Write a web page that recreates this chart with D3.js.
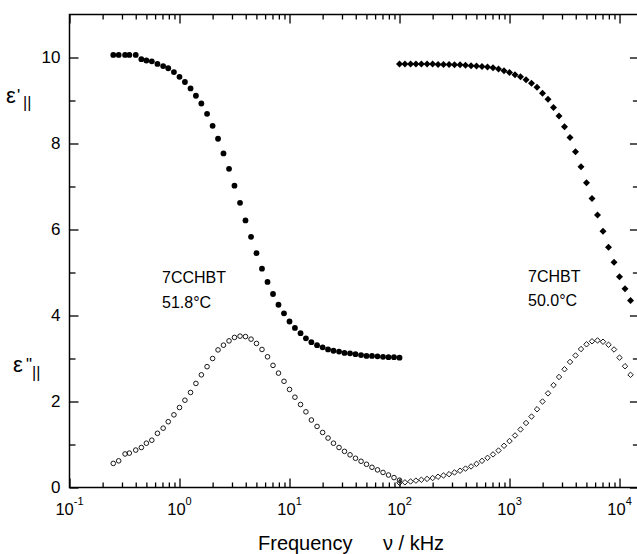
<!DOCTYPE html>
<html><head><meta charset="utf-8">
<script src="https://cdn.jsdelivr.net/npm/d3@7"></script>
<style>
body{margin:0;background:#fff}
svg{display:block}
text{font-family:"Liberation Sans",Arial,Helvetica,sans-serif;fill:#000}
</style></head>
<body><svg id="c" width="637" height="554"></svg>
<script>
// ---- data ----
// 7CCHBT, 51.8 °C : frequency (kHz), eps' (filled circles), eps'' (open circles)
const freqCCHBT = [0.25,0.28,0.32,0.35,0.40,0.45,0.50,0.56,0.63,0.71,0.79,0.89,
  1.00,1.12,1.26,1.41,1.58,1.78,2.00,2.24,2.51,2.82,3.16,3.55,3.98,4.47,5.01,5.62,6.31,7.08,7.94,8.91,
  10.0,11.2,12.6,14.1,15.8,17.8,20.0,22.4,25.1,28.2,31.6,35.5,39.8,44.7,50.1,56.2,63.1,70.8,79.4,89.1,100];
const epsRealCCHBT = [10.06,10.06,10.06,10.06,10.06,9.96,9.93,9.91,9.85,9.80,9.75,9.66,9.55,
  9.43,9.28,9.11,8.93,8.69,8.41,8.11,7.77,7.41,7.02,6.62,6.21,5.83,5.45,5.09,4.78,4.50,4.25,4.05,3.86,
  3.71,3.59,3.47,3.38,3.31,3.26,3.21,3.18,3.16,3.13,3.12,3.10,3.08,3.06,3.06,3.05,3.04,3.03,3.03,3.02];
const epsImagCCHBT = [0.56,0.62,0.78,0.80,0.87,0.93,1.03,1.10,1.26,1.38,1.53,1.69,1.86,2.03,2.21,2.42,
  2.62,2.81,3.00,3.20,3.31,3.41,3.49,3.52,3.51,3.45,3.35,3.21,3.04,2.84,2.66,2.47,2.28,2.10,1.93,1.76,
  1.57,1.42,1.28,1.15,1.03,0.93,0.84,0.76,0.68,0.61,0.54,0.47,0.41,0.35,0.29,0.23,0.17];

// 7CHBT, 50.0 °C : frequency (kHz), eps' (filled diamonds), eps'' (open diamonds)
const freqCHBT = [100,112,126,141,158,178,200,224,251,282,316,355,398,447,501,562,631,708,794,891,
  1000,1122,1259,1413,1585,1778,1995,2239,2512,2818,3162,3548,3981,4467,5012,5623,6310,7079,7943,8913,
  10000,11220,12590];
const epsRealCHBT = [9.85,9.85,9.85,9.85,9.85,9.85,9.85,9.84,9.84,9.84,9.83,9.83,9.82,9.81,9.80,9.79,
  9.78,9.76,9.73,9.69,9.65,9.60,9.55,9.48,9.40,9.31,9.17,9.03,8.84,8.64,8.39,8.14,7.81,7.46,7.09,6.72,
  6.34,5.96,5.59,5.24,4.90,4.62,4.35];
const epsImagCHBT = [0.11,0.12,0.14,0.16,0.18,0.20,0.22,0.25,0.28,0.31,0.35,0.39,0.44,0.49,0.55,0.62,
  0.69,0.77,0.86,0.97,1.08,1.21,1.35,1.50,1.65,1.82,2.00,2.19,2.38,2.57,2.75,2.92,3.07,3.22,3.33,3.40,
  3.42,3.39,3.32,3.21,3.02,2.82,2.62];

const xDecades = [0.1,1,10,100,1000,10000];
const xExponents = ["-1","0","1","2","3","4"];
const yMajor = [0,2,4,6,8,10];
const yMinor = [1,3,5,7,9];

// ---- chart ----
const svg = d3.select("#c");
const L = 69.5, R = 638.9, T = 14.5, B = 487.5;
const x = d3.scaleLog().domain([0.1, 15000]).range([L, R]);
const y = d3.scaleLinear().domain([0, 11]).range([B, T]);

const xMinor = [];
xDecades.forEach(d => { for (let k = 2; k <= 9; k++) if (d*k <= 15000) xMinor.push(d*k); });

function axisG(gen, tr) {
  const g = svg.append("g").attr("transform", tr).call(gen);
  g.select(".domain").remove();
  g.selectAll(".tick line").attr("stroke", "#000").attr("stroke-width", 1.3);
  return g;
}
// bottom
axisG(d3.axisBottom(x).tickValues(xDecades).tickSize(-9).tickFormat(""), `translate(0,${B})`);
axisG(d3.axisBottom(x).tickValues(xMinor).tickSize(-5).tickFormat(""), `translate(0,${B})`);
// top
axisG(d3.axisTop(x).tickValues(xDecades).tickSize(-9).tickFormat(""), `translate(0,${T})`);
axisG(d3.axisTop(x).tickValues(xMinor).tickSize(-5).tickFormat(""), `translate(0,${T})`);
// left
const gl = axisG(d3.axisLeft(y).tickValues(yMajor).tickSize(-9).tickPadding(9).tickFormat(d3.format("d")), `translate(${L},0)`);
gl.selectAll(".tick text").attr("font-size", 17).attr("font-family", null).attr("fill", "#000");
axisG(d3.axisLeft(y).tickValues(yMinor).tickSize(-6).tickFormat(""), `translate(${L},0)`);
// right
axisG(d3.axisRight(y).tickValues(yMajor).tickSize(-9).tickFormat(""), `translate(${R},0)`);
axisG(d3.axisRight(y).tickValues(yMinor).tickSize(-6).tickFormat(""), `translate(${R},0)`);

// frame
svg.append("rect").attr("x", L).attr("y", T).attr("width", R - L).attr("height", B - T)
  .attr("fill", "none").attr("stroke", "#000").attr("stroke-width", 1.5);

// x tick labels with superscripts
const xl = svg.append("g").selectAll("text").data(xDecades).join("text")
  .attr("x", d => x(d)).attr("y", 515).attr("text-anchor", "middle");
xl.append("tspan").attr("font-size", 16.5).text("10");
xl.append("tspan").attr("font-size", 11).attr("dy", -10).text((d, i) => xExponents[i]);

// axis titles
svg.append("text").attr("x", 258).attr("y", 550).attr("font-size", 20).text("Frequency");
svg.append("text").attr("x", 383).attr("y", 550).attr("font-size", 20).text("\u03BD / kHz");

// y titles
svg.append("text").attr("x", 6).attr("y", 103).attr("font-size", 22).text("\u03B5");
svg.append("text").attr("x", 17).attr("y", 101).attr("font-size", 17).text("'");
svg.append("text").attr("x", 23).attr("y", 108).attr("font-size", 16).text("||");
svg.append("text").attr("x", 13).attr("y", 372).attr("font-size", 22).text("\u03B5");
svg.append("text").attr("x", 26).attr("y", 370).attr("font-size", 17).text("\"");
svg.append("text").attr("x", 32).attr("y", 378).attr("font-size", 16).text("||");

// annotations
svg.append("text").attr("x", 162).attr("y", 283).attr("font-size", 16).text("7CCHBT");
svg.append("text").attr("x", 162).attr("y", 308).attr("font-size", 16).text("51.8\u00B0C");
svg.append("text").attr("x", 528).attr("y", 282).attr("font-size", 16).text("7CHBT");
svg.append("text").attr("x", 528).attr("y", 306).attr("font-size", 16).text("50.0\u00B0C");

// markers
const diamond = { draw(ctx, size) { const r = Math.sqrt(size) / 2; ctx.moveTo(0, -r); ctx.lineTo(r, 0); ctx.lineTo(0, r); ctx.lineTo(-r, 0); ctx.closePath(); } };
const dA = freqCCHBT.map((f, i) => ({f, re: epsRealCCHBT[i], im: epsImagCCHBT[i]}));
const dB = freqCHBT.map((f, i) => ({f, re: epsRealCHBT[i], im: epsImagCHBT[i]}));

svg.append("g").selectAll("circle").data(dA).join("circle")
  .attr("cx", d => x(d.f)).attr("cy", d => y(d.im)).attr("r", 2.3)
  .attr("fill", "none").attr("stroke", "#000").attr("stroke-width", 0.9);
svg.append("g").selectAll("circle").data(dA).join("circle")
  .attr("cx", d => x(d.f)).attr("cy", d => y(d.re)).attr("r", 2.9).attr("fill", "#000");
svg.append("g").selectAll("path").data(dB).join("path")
  .attr("transform", d => `translate(${x(d.f)},${y(d.im)})`)
  .attr("d", d3.symbol().type(diamond).size(30))
  .attr("fill", "none").attr("stroke", "#000").attr("stroke-width", 0.9);
svg.append("g").selectAll("path").data(dB).join("path")
  .attr("transform", d => `translate(${x(d.f)},${y(d.re)})`)
  .attr("d", d3.symbol().type(diamond).size(49)).attr("fill", "#000");
</script></body></html>
